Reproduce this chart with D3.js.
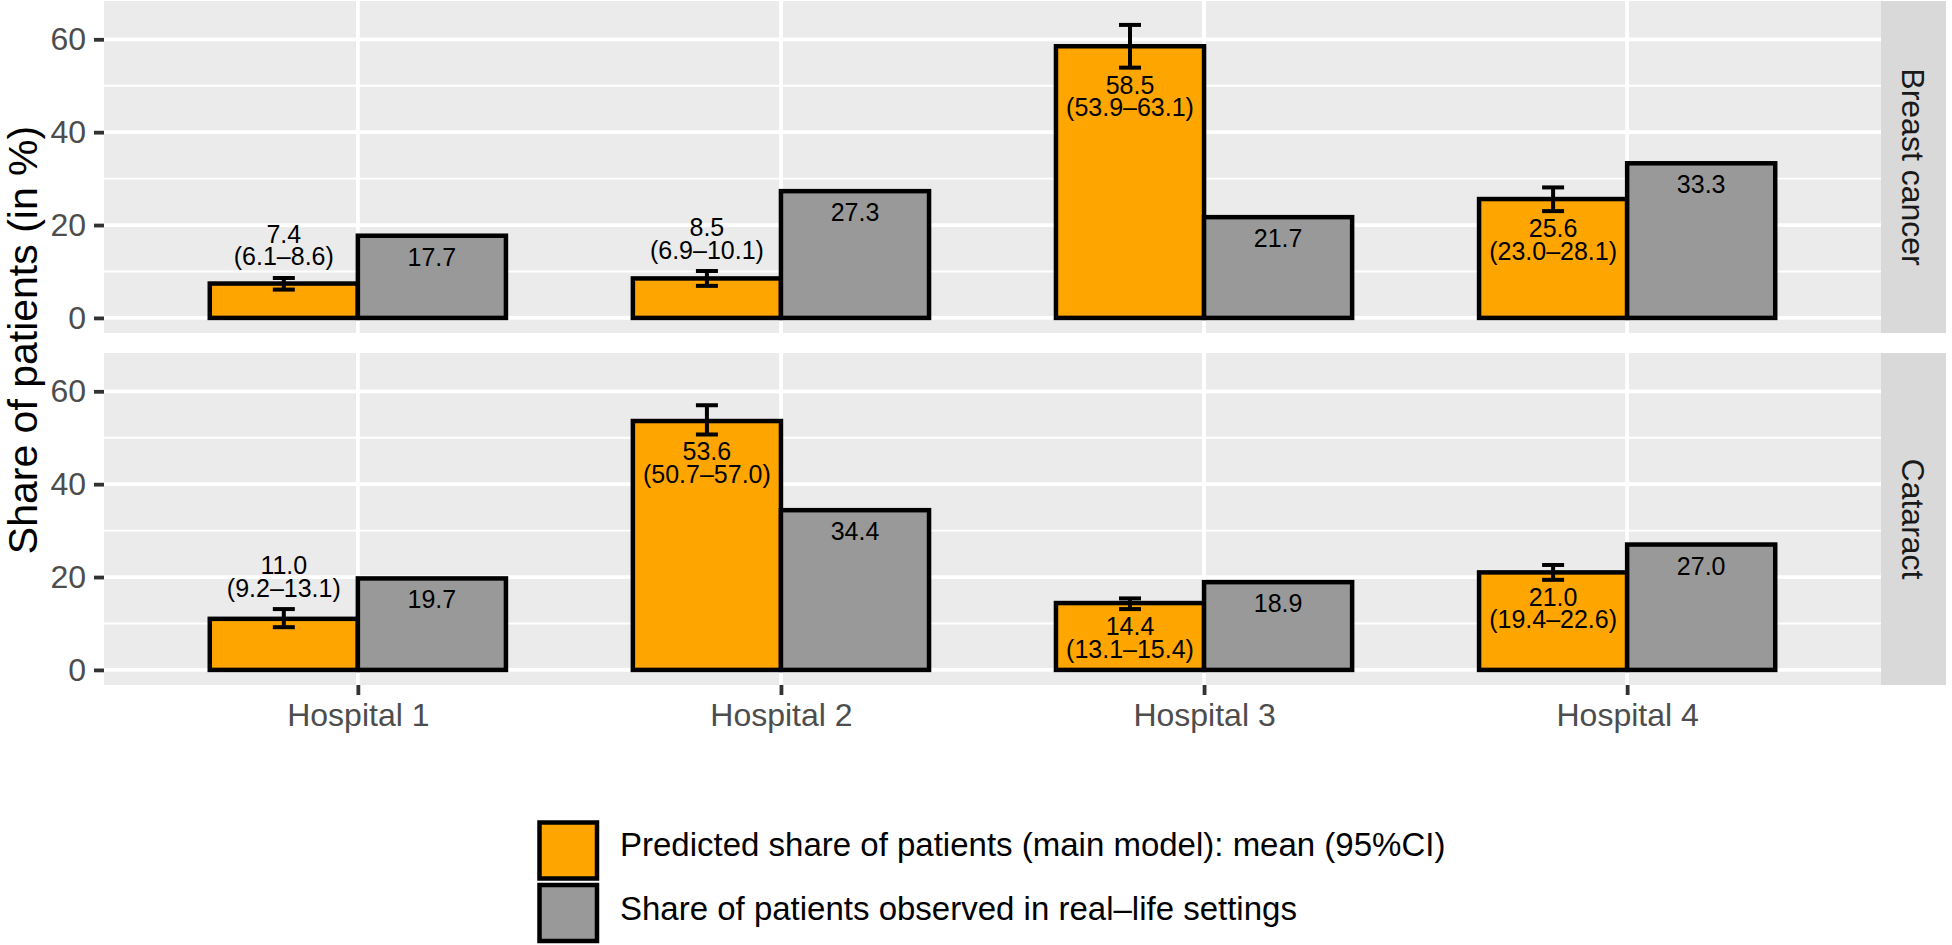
<!DOCTYPE html>
<html>
<head>
<meta charset="utf-8">
<script src="https://cdn.jsdelivr.net/npm/d3@7"></script>
<style>
  html, body { margin: 0; padding: 0; background: #ffffff; }
  svg { display: block; }
  text { font-family: "Liberation Sans", Arial, Helvetica, sans-serif; }
</style>
</head>
<body>
<svg id="chart" width="1952" height="945"></svg>
<script>
// ---- data ----
const hospitals = ["Hospital 1", "Hospital 2", "Hospital 3", "Hospital 4"];
const facets = ["Breast cancer", "Cataract"];

const breastPredMean = [7.4, 8.5, 58.5, 25.6];
const breastPredLow  = [6.1, 6.9, 53.9, 23.0];
const breastPredHigh = [8.6, 10.1, 63.1, 28.1];
const breastObserved = [17.7, 27.3, 21.7, 33.3];

const cataractPredMean = [11.0, 53.6, 14.4, 21.0];
const cataractPredLow  = [9.2, 50.7, 13.1, 19.4];
const cataractPredHigh = [13.1, 57.0, 15.4, 22.6];
const cataractObserved = [19.7, 34.4, 18.9, 27.0];

const yTicks = [0, 20, 40, 60];
const yMinorTicks = [10, 30, 50];
const legendLabels = [
  "Predicted share of patients (main model): mean (95%CI)",
  "Share of patients observed in real\u2013life settings"
];
const yTitle = "Share of patients (in %)";

// ---- build ----
const facetData = [
  { name: facets[0], mean: breastPredMean, lo: breastPredLow, hi: breastPredHigh, obs: breastObserved },
  { name: facets[1], mean: cataractPredMean, lo: cataractPredLow, hi: cataractPredHigh, obs: cataractObserved }
];

const COL_PRED = "#FFA500", COL_OBS = "#999999";
const panelX0 = 104, panelX1 = 1881;
const panels = [{ y0: 1, y1: 333 }, { y0: 353, y1: 685 }];
const unit = (panelX1 - panelX0) / 4.2;
const barW = 0.35 * unit;

const svg = d3.select("#chart");
const x = d3.scalePoint().domain(hospitals).range([panelX0 + 0.6 * unit, panelX1 - 0.6 * unit]);
const fmt = d3.format(".1f");

facetData.forEach((f, fi) => {
  const p = panels[fi];
  const y = d3.scaleLinear().domain([-3.25, 68.25]).range([p.y1, p.y0]);
  const g = svg.append("g");

  g.append("rect").attr("x", panelX0).attr("y", p.y0).attr("width", panelX1 - panelX0).attr("height", p.y1 - p.y0).attr("fill", "#EBEBEB");

  g.selectAll(".minor").data(yMinorTicks).enter().append("line")
    .attr("x1", panelX0).attr("x2", panelX1).attr("y1", d => y(d)).attr("y2", d => y(d))
    .attr("stroke", "#fff").attr("stroke-width", 1.9);
  g.selectAll(".major").data(yTicks).enter().append("line")
    .attr("x1", panelX0).attr("x2", panelX1).attr("y1", d => y(d)).attr("y2", d => y(d))
    .attr("stroke", "#fff").attr("stroke-width", 3.8);
  g.selectAll(".vmajor").data(hospitals).enter().append("line")
    .attr("x1", d => x(d)).attr("x2", d => x(d)).attr("y1", p.y0).attr("y2", p.y1)
    .attr("stroke", "#fff").attr("stroke-width", 3.8);

  const rows = hospitals.map((h, i) => ({ h, mean: f.mean[i], lo: f.lo[i], hi: f.hi[i], obs: f.obs[i] }));

  // bars
  g.selectAll(".pred").data(rows).enter().append("rect")
    .attr("x", d => x(d.h) - barW).attr("width", barW)
    .attr("y", d => y(d.mean)).attr("height", d => y(0) - y(d.mean))
    .attr("fill", COL_PRED).attr("stroke", "#000").attr("stroke-width", 4.5);
  g.selectAll(".obs").data(rows).enter().append("rect")
    .attr("x", d => x(d.h)).attr("width", barW)
    .attr("y", d => y(d.obs)).attr("height", d => y(0) - y(d.obs))
    .attr("fill", COL_OBS).attr("stroke", "#000").attr("stroke-width", 4.5);

  // error bars
  const cx = d => x(d.h) - barW / 2;
  const eb = g.selectAll(".eb").data(rows).enter().append("g").attr("stroke", "#000").attr("stroke-width", 4);
  eb.append("line").attr("x1", cx).attr("x2", cx).attr("y1", d => y(d.lo)).attr("y2", d => y(d.hi));
  eb.append("line").attr("x1", d => cx(d) - 11).attr("x2", d => cx(d) + 11).attr("y1", d => y(d.lo)).attr("y2", d => y(d.lo));
  eb.append("line").attr("x1", d => cx(d) - 11).attr("x2", d => cx(d) + 11).attr("y1", d => y(d.hi)).attr("y2", d => y(d.hi));

  // predicted labels
  rows.forEach(d => {
    const above = d.mean < 12;
    const b1 = above ? y(d.hi) - 35 : y(d.lo) + 26;
    const t = g.append("text").attr("x", cx(d)).attr("text-anchor", "middle").attr("font-size", 25).attr("fill", "#000");
    t.append("tspan").attr("x", cx(d)).attr("y", b1).text(fmt(d.mean));
    t.append("tspan").attr("x", cx(d)).attr("y", b1 + 22.5).text("(" + fmt(d.lo) + "\u2013" + fmt(d.hi) + ")");
  });
  // observed labels
  g.selectAll(".obsl").data(rows).enter().append("text")
    .attr("x", d => x(d.h) + barW / 2).attr("y", d => y(d.obs) + 30)
    .attr("text-anchor", "middle").attr("font-size", 25).attr("fill", "#000")
    .text(d => fmt(d.obs));

  // y axis
  const ax = g.append("g").attr("transform", `translate(${panelX0},0)`)
    .call(d3.axisLeft(y).tickValues(yTicks).tickSize(10).tickPadding(8).tickFormat(d3.format("d")));
  ax.select(".domain").remove();
  ax.selectAll(".tick line").attr("stroke", "#333333").attr("stroke-width", 3.8);
  ax.selectAll(".tick text").attr("fill", "#4D4D4D").attr("font-size", 32)
    .attr("font-family", "'Liberation Sans', Arial, Helvetica, sans-serif");

  // strip
  g.append("rect").attr("x", 1881).attr("y", p.y0).attr("width", 65).attr("height", p.y1 - p.y0).attr("fill", "#D9D9D9");
  g.append("text").attr("transform", `translate(${1913.5},${(p.y0 + p.y1) / 2}) rotate(90)`)
    .attr("text-anchor", "middle").attr("dy", "0.35em").attr("font-size", 32).attr("fill", "#1A1A1A").text(f.name);
});

// x axis
const xa = svg.append("g").attr("transform", `translate(0,${panels[1].y1})`)
  .call(d3.axisBottom(x).tickSize(10).tickPadding(8));
xa.select(".domain").remove();
xa.selectAll(".tick line").attr("stroke", "#333333").attr("stroke-width", 3.8);
xa.selectAll(".tick text").attr("fill", "#4D4D4D").attr("font-size", 32)
  .attr("font-family", "'Liberation Sans', Arial, Helvetica, sans-serif");

// y title
svg.append("text").attr("transform", `translate(37,${(panels[0].y0 + panels[1].y1) / 2 - 3}) rotate(-90)`)
  .attr("text-anchor", "middle").attr("font-size", 41).attr("fill", "#000").text(yTitle);

// legend
const legCols = [COL_PRED, COL_OBS];
const lg = svg.append("g");
legCols.forEach((c, i) => {
  lg.append("rect").attr("x", 539.5).attr("y", 822.5 + i * 62.5).attr("width", 57.5).attr("height", 56)
    .attr("fill", c).attr("stroke", "#000").attr("stroke-width", 4.5);
  lg.append("text").attr("x", 620).attr("y", 856 + i * 64).attr("font-size", 33).attr("fill", "#000").text(legendLabels[i]);
});
</script>
</body>
</html>
